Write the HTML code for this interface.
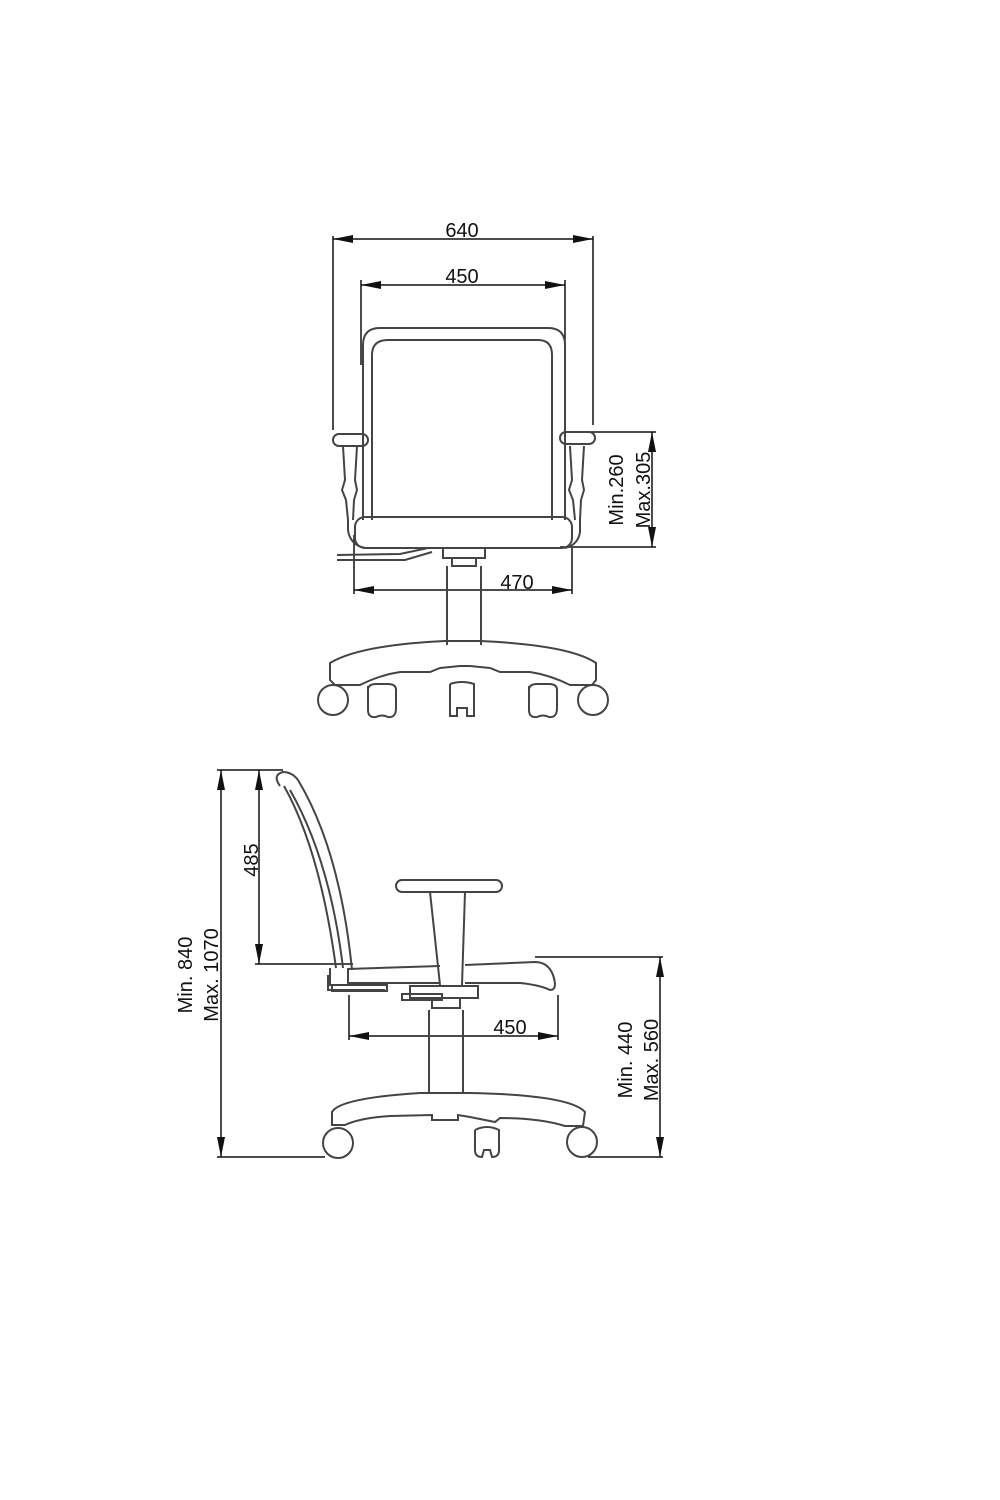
<!DOCTYPE html>
<html><head><meta charset="utf-8"><style>
html,body{margin:0;padding:0;background:#fff;}
svg{display:block;}
text{font-family:"Liberation Sans",Arial,sans-serif;font-size:20px;fill:#111;}
</style></head><body>
<svg width="1000" height="1500" viewBox="0 0 1000 1500" xmlns="http://www.w3.org/2000/svg">
<defs>
<marker id="a" viewBox="0 0 20 8" refX="20" refY="4" markerWidth="20" markerHeight="8" orient="auto-start-reverse" markerUnits="userSpaceOnUse"><path d="M0,0 L20,4 L0,8 Z" fill="#111"/></marker>
</defs>
<g stroke="#111" stroke-width="1.5" fill="none">
<line x1="333" y1="236" x2="333" y2="430"/>
<line x1="593" y1="236" x2="593" y2="425"/>
<line x1="333" y1="239" x2="593" y2="239" marker-start="url(#a)" marker-end="url(#a)"/>
<line x1="361" y1="280" x2="361" y2="365"/>
<line x1="565" y1="280" x2="565" y2="362"/>
<line x1="361" y1="285" x2="565" y2="285" marker-start="url(#a)" marker-end="url(#a)"/>
<line x1="582" y1="432" x2="656" y2="432"/>
<line x1="560" y1="547" x2="656" y2="547"/>
<line x1="652" y1="432" x2="652" y2="547" marker-start="url(#a)" marker-end="url(#a)"/>
<line x1="354" y1="535" x2="354" y2="594"/>
<line x1="572" y1="548" x2="572" y2="594"/>
<line x1="354" y1="590" x2="572" y2="590" marker-start="url(#a)" marker-end="url(#a)"/>
</g>
<g stroke="#444" stroke-width="2" fill="none">
<path d="M363,520 L363,345 Q363,328 380,328 L548,328 Q565,328 565,345 L565,520"/>
<path d="M372,520 L372,355 Q372,340 388,340 L538,340 Q552,340 552,355 L552,520"/>
<rect x="333" y="434" width="35" height="12" rx="6"/>
<rect x="560" y="432" width="35" height="12" rx="6"/>
<path d="M343,446 L345,480 L342,490 L346,500 L348,520 M357,446 L355,480 L357,490 L354,500 L353,520"/>
<path d="M570,446 L572,480 L569,490 L573,500 L575,520 M584,446 L582,480 L584,490 L581,500 L580,520"/>
<path d="M348,520 L348,530 Q350,545 365,548 M580,520 L580,532 Q578,545 565,548"/>
<rect x="355" y="517" width="217" height="31" rx="10"/>
<path d="M337,555 L400,554 L428,548 M337,560 L405,560 L432,552"/>
<rect x="443" y="548" width="42" height="10"/>
<rect x="452" y="558" width="24" height="8"/>
<path d="M447,566 L447,645 M481,566 L481,645"/>
<path d="M330,663 L330,680 L335,685 L360,685 Q380,675 400,672 L430,672 L440,668 L460,666 L470,666 L490,668 L500,672 L530,672 Q550,675 570,685 L592,685 L596,680 L596,663 Q570,645 480,641 L445,641 Q360,645 330,663 Z"/>
<circle cx="333" cy="700" r="15"/>
<path d="M368,686 L368,710 Q368,718 376,717 Q382,714 388,717 Q396,718 396,708 L396,690 Q396,684 388,684 L376,684 Q368,684 368,690"/>
<path d="M450,684 L450,716 L457,716 L457,708 L467,708 L467,716 L474,716 L474,684 Q462,680 450,684"/>
<path d="M529,686 L529,710 Q529,718 537,717 Q543,714 549,717 Q557,718 557,708 L557,690 Q557,684 549,684 L537,684 Q529,684 529,690"/>
<circle cx="593" cy="700" r="15"/>
</g>
<text x="462" y="237" text-anchor="middle">640</text>
<text x="462" y="283" text-anchor="middle">450</text>
<text x="517" y="589" text-anchor="middle">470</text>
<text transform="translate(623,490) rotate(-90)" text-anchor="middle">Min.260</text>
<text transform="translate(650,490) rotate(-90)" text-anchor="middle">Max.305</text>

<g stroke="#111" stroke-width="1.5" fill="none">
<line x1="217" y1="770" x2="283" y2="770"/>
<line x1="217" y1="1157" x2="325" y2="1157"/>
<line x1="221" y1="770" x2="221" y2="1157" marker-start="url(#a)" marker-end="url(#a)"/>
<line x1="255" y1="964" x2="353" y2="964"/>
<line x1="259" y1="770" x2="259" y2="964" marker-start="url(#a)" marker-end="url(#a)"/>
<line x1="349" y1="995" x2="349" y2="1040"/>
<line x1="558" y1="995" x2="558" y2="1040"/>
<line x1="349" y1="1036" x2="558" y2="1036" marker-start="url(#a)" marker-end="url(#a)"/>
<line x1="535" y1="957" x2="663" y2="957"/>
<line x1="588" y1="1157" x2="663" y2="1157"/>
<line x1="660" y1="957" x2="660" y2="1157" marker-start="url(#a)" marker-end="url(#a)"/>
</g>
<g stroke="#444" stroke-width="2" fill="none">
<path d="M280,786 Q272,775 283,772 Q292,772 298,780 Q340,850 352,970"/>
<path d="M284,786 Q320,850 336,968"/>
<path d="M290,790 Q330,860 343,968"/>
<path d="M330,968 L330,985 L348,985 L348,969 L440,966 M465,965 L535,962 Q548,962 553,975 Q558,990 550,990 Q540,985 520,983 L465,983 M440,983 L348,983"/>
<path d="M328,975 L328,990 L385,990"/>
<rect x="332" y="985" width="55" height="6"/>
<rect x="396" y="880" width="106" height="12" rx="6"/>
<path d="M430,892 L440,985 M465,892 L462,985"/>
<rect x="410" y="986" width="68" height="12"/>
<rect x="402" y="994" width="40" height="6"/>
<path d="M432,998 L432,1008 L460,1008 L460,998"/>
<path d="M429,1010 L429,1093 M463,1010 L463,1093"/>
<path d="M332,1112 L332,1125 L345,1125 Q360,1118 390,1116 L432,1115 L432,1120 L458,1120 L458,1115 L470,1117 L495,1122 L500,1118 Q540,1118 565,1126 L583,1126 L585,1112 Q570,1095 470,1093 L420,1093 Q340,1098 332,1112 Z"/>
<circle cx="338" cy="1143" r="15"/>
<path d="M475,1130 L475,1150 Q475,1157 482,1157 L484,1150 L490,1150 L492,1157 Q499,1157 499,1150 L499,1130 Q487,1124 475,1130"/>
<circle cx="582" cy="1142" r="15"/>
</g>
<text x="510" y="1034" text-anchor="middle">450</text>
<text transform="translate(258,860) rotate(-90)" text-anchor="middle">485</text>
<text transform="translate(192,975) rotate(-90)" text-anchor="middle">Min. 840</text>
<text transform="translate(218,975) rotate(-90)" text-anchor="middle">Max. 1070</text>
<text transform="translate(632,1060) rotate(-90)" text-anchor="middle">Min. 440</text>
<text transform="translate(658,1060) rotate(-90)" text-anchor="middle">Max. 560</text>
</svg>
</body></html>
